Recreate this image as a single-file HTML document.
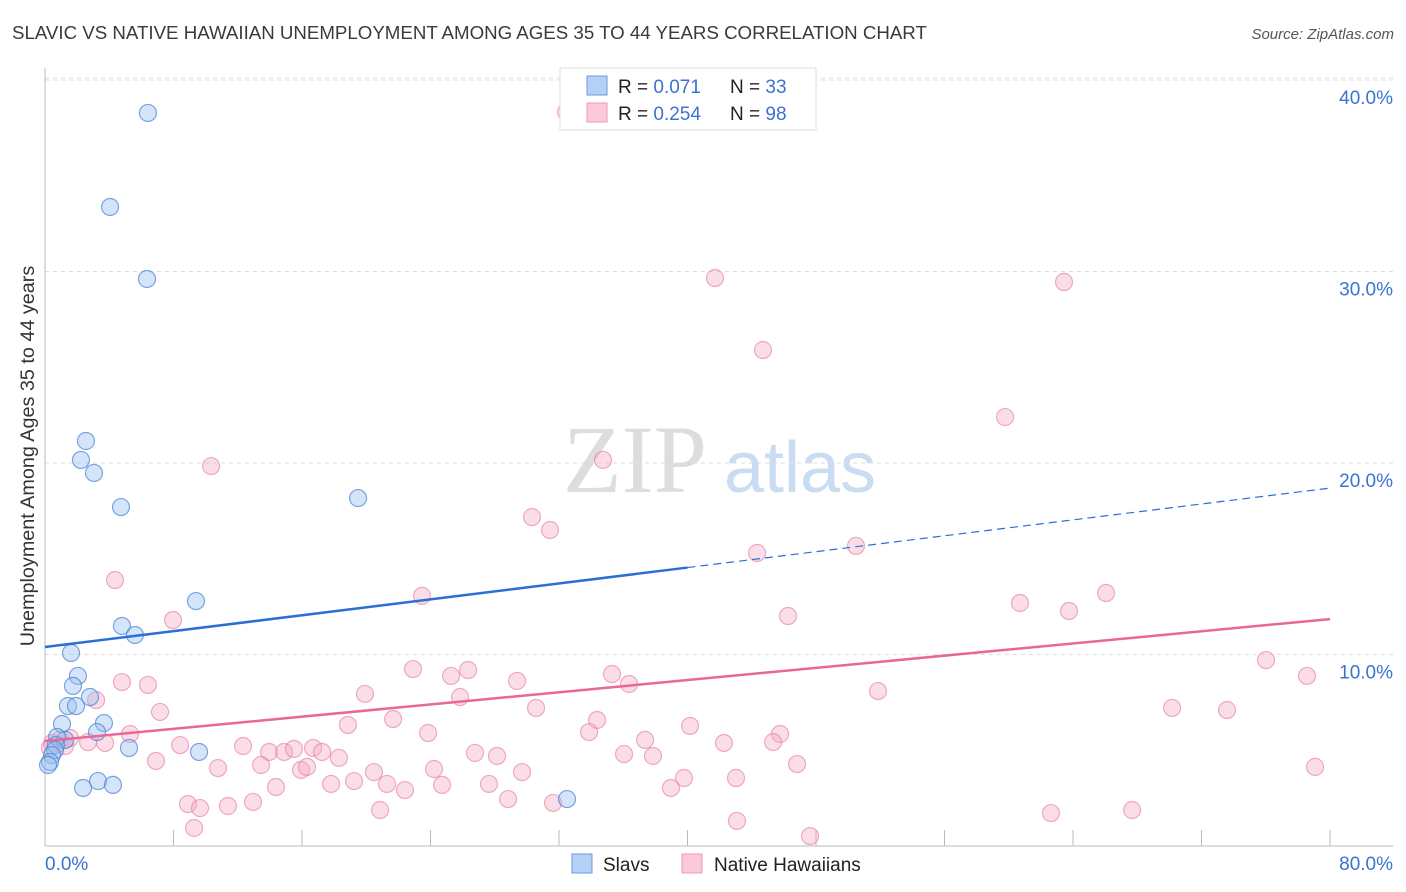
<!DOCTYPE html>
<html><head><meta charset="utf-8"><style>
body{margin:0;background:#fff;font-family:"Liberation Sans",sans-serif;}
svg{display:block}
</style></head><body>
<svg id="chart" width="1406" height="892">
<text x="12" y="39" font-size="18.7" fill="#3a3a3a">SLAVIC VS NATIVE HAWAIIAN UNEMPLOYMENT AMONG AGES 35 TO 44 YEARS CORRELATION CHART</text>
<text x="1394" y="39" font-size="15" font-style="italic" fill="#555" text-anchor="end">Source: ZipAtlas.com</text>
<text transform="translate(34,456) rotate(-90)" font-size="19.8" fill="#333" text-anchor="middle">Unemployment Among Ages 35 to 44 years</text>
<g><text x="635" y="492" font-size="96" font-family="Liberation Serif,serif" fill="#ddd" text-anchor="middle">ZIP</text><text x="800" y="492" font-size="72" fill="#c9dcf2" text-anchor="middle">atlas</text></g>
<g id="grid"></g><g id="axes"></g><g id="pts"></g><g id="trend"></g>
<g>
<rect x="560" y="68" width="256" height="62" fill="#fff" stroke="#ddd"/>
<rect x="587" y="76" width="20" height="19" fill="#b5d0f5" stroke="#6a9ae0"/>
<text x="618" y="93" font-size="19" fill="#222">R = <tspan fill="#3a73d0">0.071</tspan></text>
<text x="730" y="93" font-size="19" fill="#222">N = <tspan fill="#3a73d0">33</tspan></text>
<rect x="587" y="103" width="20" height="19" fill="#fbc9d8" stroke="#ec9ab5"/>
<text x="618" y="120" font-size="19" fill="#222">R = <tspan fill="#3a73d0">0.254</tspan></text>
<text x="730" y="120" font-size="19" fill="#222">N = <tspan fill="#3a73d0">98</tspan></text>
</g>
<g>
<rect x="572" y="854" width="20" height="19" fill="#b5d0f5" stroke="#6a9ae0"/>
<text x="603" y="871" font-size="19" fill="#222">Slavs</text>
<rect x="682" y="854" width="20" height="19" fill="#fbc9d8" stroke="#ec9ab5"/>
<text x="714" y="871" font-size="19" fill="#222">Native Hawaiians</text>
</g>
</svg>
<script>
const slavsX=[6.41,4.05,6.35,2.55,2.24,3.05,4.73,19.49,9.40,4.79,5.60,1.62,2.05,1.74,2.80,1.43,1.93,1.06,3.67,3.24,1.25,0.75,5.23,9.59,0.68,0.62,0.44,0.31,2.37,3.30,4.23,32.50,0.19];
const slavsY=[38.28,33.37,29.61,21.15,20.16,19.48,17.70,18.17,12.79,11.49,11.02,10.08,8.88,8.36,7.78,7.31,7.31,6.37,6.42,5.95,5.54,5.69,5.12,4.91,5.27,5.01,4.75,4.39,3.03,3.39,3.19,2.45,4.23];
const hawX=[32.44,41.71,63.44,44.70,59.77,10.34,34.74,30.32,31.44,44.33,50.49,4.36,7.97,23.47,60.70,63.75,66.06,46.26,76.02,78.57,4.79,6.41,22.91,26.34,25.28,29.39,35.30,36.36,51.86,19.92,25.84,7.16,3.18,30.57,18.86,21.67,34.37,40.16,70.17,73.59,23.85,33.87,37.36,45.76,42.27,45.33,8.41,12.33,13.95,14.88,15.50,16.69,17.25,18.30,26.77,28.14,5.29,2.68,1.56,0.44,0.93,6.91,10.77,13.45,15.94,16.31,20.48,17.81,19.24,21.29,24.72,22.41,24.22,27.64,29.70,37.85,36.05,43.02,39.78,46.82,79.07,8.90,9.65,11.39,12.95,14.38,20.86,28.83,31.63,38.97,43.08,47.63,62.63,67.68,9.28,3.74,1.25,0.31];
const hawY=[38.33,29.66,29.45,25.90,22.40,19.84,20.16,17.18,16.50,15.30,15.67,13.89,11.80,13.06,12.69,12.27,13.21,12.01,9.71,8.88,8.56,8.41,9.24,9.19,8.88,8.62,8.98,8.46,8.09,7.94,7.78,7.00,7.62,7.21,6.32,6.63,6.58,6.27,7.21,7.10,5.90,5.95,5.54,5.85,5.38,5.43,5.27,5.22,4.91,4.91,5.07,5.12,4.91,4.60,4.86,4.70,5.85,5.43,5.64,5.38,5.54,4.44,4.07,4.23,3.97,4.13,3.86,3.24,3.39,3.24,3.19,2.92,4.02,3.24,3.86,4.70,4.80,3.55,3.55,4.28,4.13,2.19,1.98,2.09,2.30,3.08,1.88,2.45,2.25,3.03,1.31,0.52,1.72,1.88,0.94,5.38,5.22,5.12];
const yTicks=[10,20,30,40];
const xTickLabels=["0.0%","80.0%"];
const slavsTrend=[10.39,18.69];
const hawTrend=[5.48,11.85];
const slavsSolidEnd=40;
const NS="http://www.w3.org/2000/svg";
const X=v=>45+v/80*1285, Y=v=>846-v*19.15;
function mk(p,t,a){const e=document.createElementNS(NS,t);for(const k in a)e.setAttribute(k,a[k]);p.appendChild(e);return e;}
const grid=document.getElementById('grid'),axes=document.getElementById('axes'),pts=document.getElementById('pts'),trend=document.getElementById('trend');
const topLine=mk(grid,'line',{x1:45,x2:1393,y1:78,y2:78,stroke:'#ddd','stroke-dasharray':'4,4'});


yTicks.forEach(t=>{
 const l=mk(grid,'line',{x1:45,x2:1393,y1:Y(t),y2:Y(t),stroke:'#ddd','stroke-dasharray':'4,4'});
 
 
 const tx=mk(grid,'text',{x:1393,y:Y(t)+24,'font-size':19,fill:'#3a73d0','text-anchor':'end'});
 tx.textContent=t.toFixed(1)+'%';
 
 
});
mk(axes,'line',{x1:45,x2:45,y1:68,y2:846,stroke:'#bbb'});
mk(axes,'line',{x1:45,x2:1393,y1:846,y2:846,stroke:'#bbb'});
for(let i=0;i<=10;i++){const t=mk(axes,'line',{x1:X(i*8),x2:X(i*8),y1:830,y2:846,stroke:'#bbb'});
 
 }
const xl0=mk(axes,'text',{x:45,y:870,'font-size':19,fill:'#3a73d0'});xl0.textContent=xTickLabels[0];


const xl1=mk(axes,'text',{x:1393,y:870,'font-size':19,fill:'#3a73d0','text-anchor':'end'});xl1.textContent=xTickLabels[1];


hawX.forEach((v,i)=>{const c=mk(pts,'circle',{cx:X(v),cy:Y(hawY[i]),r:8.5,fill:'rgba(246,170,195,0.4)',stroke:'rgba(230,120,160,0.6)','stroke-width':1.2});
 
 });
slavsX.forEach((v,i)=>{const c=mk(pts,'circle',{cx:X(v),cy:Y(slavsY[i]),r:8.5,fill:'rgba(150,190,240,0.4)',stroke:'rgba(70,130,215,0.7)','stroke-width':1.2});
 
 });
const sy=x=>slavsTrend[0]+(slavsTrend[1]-slavsTrend[0])*x/80;
const hy=x=>hawTrend[0]+(hawTrend[1]-hawTrend[0])*x/80;
const t1=mk(trend,'line',{x1:X(0),y1:Y(sy(0)),x2:X(slavsSolidEnd),y2:Y(sy(slavsSolidEnd)),stroke:'#2a6fd6','stroke-width':2.5});


const t2=mk(trend,'line',{x1:X(slavsSolidEnd),y1:Y(sy(slavsSolidEnd)),x2:X(80),y2:Y(sy(80)),stroke:'#2a6fd6','stroke-width':1.2,'stroke-dasharray':'8,5'});


const t3=mk(trend,'line',{x1:X(0),y1:Y(hy(0)),x2:X(80),y2:Y(hy(80)),stroke:'#e8669a','stroke-width':2.5});


</script>
</body></html>
